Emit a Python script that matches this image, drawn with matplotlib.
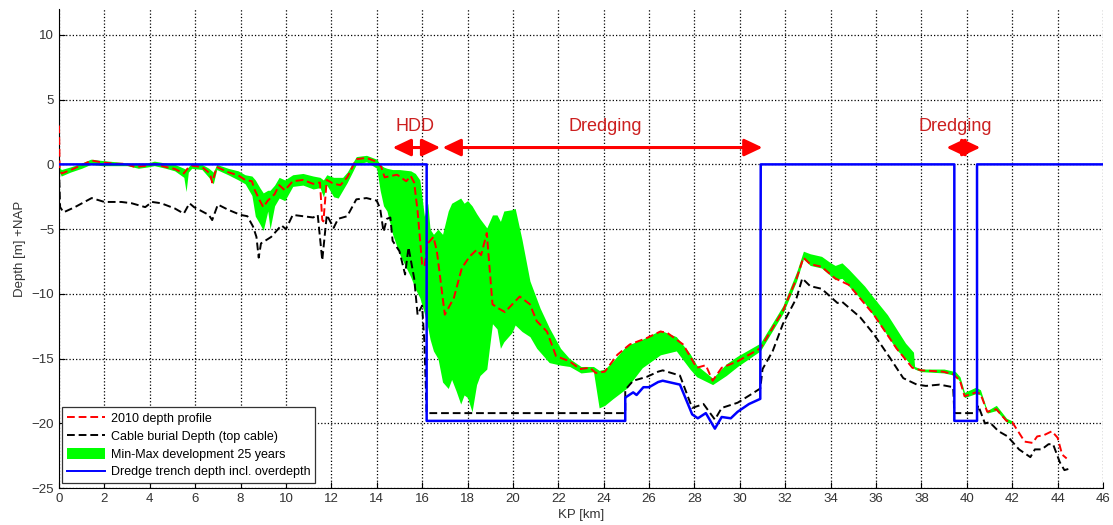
import numpy as np
import matplotlib
matplotlib.use("Agg")
import matplotlib.pyplot as plt
from matplotlib.patches import Patch
from matplotlib.lines import Line2D

plt.rcParams['font.family'] = ['Liberation Sans', 'DejaVu Sans']

# 2010 depth profile (KP km, depth m)
prof_kp = [0.0, 0.03, 0.12, 0.56, 1.0, 1.44, 1.9, 2.5, 2.9, 3.35, 3.9, 4.2, 4.7, 5.1, 5.5, 5.65,
           5.85, 6.3, 6.65, 6.75, 6.95, 7.45, 7.9, 8.2, 8.5, 8.63, 8.85, 9.0, 9.2, 9.5, 9.7, 9.95,
           10.3, 10.75, 11.2, 11.5, 11.6, 11.65, 11.8, 12.1, 12.4, 12.7, 13.1, 13.55, 14.0, 14.2,
           14.35, 14.6, 14.9, 15.3, 15.5, 15.65, 15.8, 16.0, 16.1, 16.25, 16.5, 16.65, 17.0, 17.4,
           17.75, 18.1, 18.4, 18.6, 18.85, 19.1, 19.35, 19.65, 20.3, 20.75, 21.05, 21.5, 21.9, 22.5,
           22.95, 23.4, 23.65, 24.05, 24.6, 25.15, 25.9, 26.5, 26.8, 27.5, 28.1, 28.5, 28.8, 29.2,
           29.9, 30.9, 31.9, 32.5, 32.8, 33.1, 33.6, 34.2, 34.8, 35.9, 36.9, 37.6, 38.0, 38.95,
           39.4, 39.7, 39.9, 40.4, 40.6, 40.9, 41.3, 41.75, 42.0, 42.55, 42.9, 43.1, 43.4, 43.75,
           44.0, 44.2, 44.4]
prof_z = [3.0, -0.3, -0.7, -0.4, -0.05, 0.3, 0.15, 0.05, 0.05, -0.2, -0.1, 0.05, -0.2, -0.35, -0.7, -0.35,
          -0.1, -0.2, -0.7, -1.4, -0.2, -0.6, -0.85, -1.2, -1.3, -2.0, -2.8, -3.3, -2.8, -2.3, -1.6, -2.0,
          -1.3, -1.2, -1.5, -1.4, -4.3, -4.4, -1.2, -1.5, -1.6, -1.0, 0.4, 0.5, 0.2, -0.2,
          -1.0, -0.9, -0.8, -1.3, -0.9, -1.4, -3.6, -7.7, -7.9, -6.1, -5.6, -6.7, -11.6, -10.3,
          -8.0, -7.1, -6.6, -7.0, -5.3, -10.8, -11.1, -11.4, -10.2, -10.8, -12.1, -12.9, -14.8, -15.2,
          -15.8, -15.7, -16.1, -16.0, -14.7, -13.9, -13.4, -12.9, -13.0, -13.9, -15.7, -15.5, -16.7, -15.7,
          -15.2, -14.2, -11.3, -8.8, -7.2, -7.7, -7.9, -8.8, -9.3, -11.6, -14.2, -15.7, -15.9, -16.0,
          -16.2, -16.7, -17.9, -17.6, -17.7, -19.1, -18.9, -19.8, -19.9, -21.4, -21.5, -21.0, -20.9, -20.6,
          -21.1, -22.4, -22.7]

# cable burial depth (top of cable)
cable_kp = [0.0, 0.05, 0.2, 0.7, 1.44, 2.0, 2.75, 3.2, 3.8, 4.1, 4.5, 5.1, 5.5, 5.75, 5.95, 6.6, 6.75,
            7.0, 7.45, 8.0, 8.3, 8.55, 8.7, 8.8, 8.9, 9.35, 9.8, 10.0, 10.3, 10.75, 11.2, 11.4, 11.6,
            11.8, 12.1, 12.3, 12.7, 13.1, 13.55, 14.0, 14.15, 14.3, 14.45, 14.6, 14.7, 15.0, 15.25,
            15.4, 15.65, 15.8, 16.0, 16.1, 16.2, 24.95, 24.95, 25.3, 25.9, 26.4, 26.6, 27.36, 27.9,
            28.4, 28.9, 29.2, 29.9, 30.45, 30.9, 31.0, 31.45, 31.9, 32.5, 32.75, 33.1, 33.6, 34.3,
            34.5, 35.3, 35.9, 36.6, 37.2, 37.8, 38.2, 38.8, 39.4, 39.45, 40.45, 40.5, 40.8, 41.0,
            41.4, 41.8, 42.3, 42.8, 43.0, 43.3, 43.6, 43.8, 44.1, 44.3, 44.5]
cable_z = [-0.3, -3.3, -3.7, -3.3, -2.6, -2.9, -2.9, -3.0, -3.3, -2.9, -3.0, -3.4, -3.8, -3.0, -3.3, -3.9, -4.3,
           -3.1, -3.5, -3.9, -4.0, -4.8, -5.6, -7.2, -6.1, -5.6, -4.7, -5.0, -3.9, -4.0, -4.1, -3.9, -7.4,
           -3.9, -4.9, -4.2, -4.0, -2.7, -2.6, -2.8, -3.4, -5.2, -4.2, -4.1, -5.9, -6.7, -8.5,
           -6.4, -8.8, -11.6, -10.9, -13.7, -19.2, -19.2, -17.4, -16.7, -16.4, -16.0, -15.9, -16.3, -18.8,
           -18.5, -19.7, -18.8, -18.4, -17.8, -17.3, -15.8, -14.4, -12.3, -10.3, -8.8, -9.4, -9.6, -10.7,
           -10.6, -11.8, -13.1, -14.9, -16.5, -17.0, -17.1, -17.0, -17.2, -19.2, -19.2, -18.6, -20.0, -19.9,
           -20.6, -21.0, -22.0, -22.6, -22.0, -22.0, -21.6, -21.6, -23.0, -23.6, -23.5]

# min-max seabed development over 25 years
band_kp = [0.02, 0.1, 0.5, 1.0, 1.4, 1.9, 2.5, 3.0, 3.5, 3.9, 4.2, 4.7, 5.1, 5.5, 5.6, 5.7, 5.85,
           6.3, 6.6, 6.8, 6.95, 7.45, 7.9, 8.2, 8.5, 8.65, 8.85, 9.0, 9.2, 9.3, 9.5, 9.7, 9.95,
           10.3, 10.75, 11.2, 11.5, 11.65, 11.8, 12.1, 12.3, 12.5, 12.7, 13.1, 13.55, 14.0, 14.15,
           14.3, 14.45, 14.7, 15.0, 15.5, 15.7, 15.9, 16.1, 16.25, 16.35, 16.5, 16.7, 16.9, 17.15,
           17.3, 17.5, 17.7, 17.85, 18.0, 18.2, 18.4, 18.55, 18.85, 19.1, 19.3, 19.45, 19.6, 19.95,
           20.1, 20.4, 20.75, 21.05, 21.2, 21.6, 22.1, 22.5, 23.0, 23.55, 23.8, 24.05, 24.4, 25.0,
           25.7, 26.5, 27.2, 27.8, 28.1, 28.8, 29.4, 29.9, 30.9, 31.9, 32.5, 32.8, 33.1, 33.6,
           34.0, 34.2, 34.5, 34.8, 35.5, 35.9, 36.5, 36.9, 37.3, 37.65, 37.7, 38.0, 39.0, 39.5,
           39.7, 39.9, 40.4, 40.6, 40.9, 41.3, 41.75, 42.0]
band_hi = [-0.2, -0.4, -0.2, 0.1, 0.4, 0.3, 0.2, 0.1, 0.0, 0.1, 0.25, 0.1, 0.0, -0.3, -0.4, -0.2, 0.1,
           0.0, -0.3, -0.6, 0.0, -0.3, -0.5, -0.8, -0.9, -1.2, -1.8, -2.2, -2.0, -2.0, -1.6, -1.0, -1.2,
           -0.8, -0.7, -0.9, -1.0, -1.2, -0.8, -1.0, -1.0, -1.0, -0.6, 0.6, 0.7, 0.4, 0.0,
           -0.2, -0.3, -0.4, -0.4, -0.5, -0.7, -1.2, -4.0, -3.0, -5.0, -5.4, -5.0, -5.4, -3.6,
           -3.0, -2.8, -2.6, -3.0, -2.8, -3.2, -3.8, -4.2, -4.9, -3.9, -3.9, -4.4, -3.6, -3.5,
           -3.4, -5.8, -9.0, -10.4, -11.1, -12.6, -14.2, -15.0, -15.6, -15.6, -15.9, -15.8, -15.2, -14.0,
           -13.5, -12.8, -13.3, -14.6, -15.5, -16.5, -15.4, -14.8, -13.8, -10.9, -8.3, -6.7, -6.9, -7.1,
           -7.6, -7.8, -7.6, -8.1, -9.4, -10.3, -11.6, -12.7, -13.8, -14.5, -15.6, -15.8, -15.8, -16.0,
           -16.4, -17.6, -17.2, -17.4, -19.0, -18.6, -19.6, -19.8]
band_lo = [-0.6, -0.9, -0.6, -0.3, 0.0, -0.1, -0.1, -0.1, -0.3, -0.2, -0.1, -0.3, -0.5, -1.0, -2.1, -0.6, -0.3,
           -0.4, -1.0, -1.5, -0.4, -0.8, -1.2, -1.5, -2.4, -4.0, -4.6, -5.1, -3.6, -5.0, -3.2, -2.6, -2.8,
           -1.7, -1.6, -1.9, -1.8, -2.5, -1.6, -2.5, -2.6, -2.0, -1.4, 0.0, 0.2, -0.3, -2.0,
           -3.2, -3.6, -5.4, -6.9, -8.7, -9.6, -10.3, -11.5, -12.6, -13.5, -14.4, -15.0, -16.8, -17.3,
           -16.6, -17.5, -18.5, -17.8, -18.0, -19.1, -17.0, -16.3, -15.8, -12.3, -12.7, -14.2, -13.7, -13.0,
           -12.4, -12.9, -13.3, -14.2, -14.5, -15.3, -15.5, -15.6, -16.1, -16.0, -18.8, -18.6, -18.1, -17.3,
           -15.7, -14.7, -14.4, -15.8, -16.4, -17.0, -16.3, -15.6, -14.4, -11.5, -9.0, -7.3, -7.8, -8.0,
           -8.6, -8.9, -8.8, -9.4, -10.7, -11.7, -13.2, -14.3, -15.0, -15.7, -15.8, -16.0, -16.1, -16.3,
           -16.8, -18.0, -17.7, -17.8, -19.2, -19.0, -19.9, -20.0]

# dredge trench depth incl. overdepth
trench_kp = [0.0, 16.2, 16.2, 24.95, 24.95, 25.3, 25.45, 25.75, 26.0, 26.4, 26.6, 27.36, 27.9, 28.15,
             28.5, 28.9, 29.2, 29.6, 29.9, 30.4, 30.9, 30.92, 39.45, 39.45, 40.45, 40.45, 46.0]
trench_z = [0.0, 0.0, -19.8, -19.8, -18.0, -17.6, -17.8, -17.2, -17.2, -16.8, -16.7, -17.0, -19.3, -19.6,
            -19.2, -20.4, -19.5, -19.6, -19.1, -18.5, -18.1, 0.0, 0.0, -19.8, -19.8, 0.0, 0.0]

# work zones: label, start KP, end KP
zone_names = ['HDD', 'Dredging', 'Dredging']
zone_start = [14.7, 16.9, 39.1]
zone_end = [16.8, 31.0, 40.6]
zone_label_kp = [15.7, 24.05, 39.5]

fig = plt.figure(figsize=(11.13, 5.25), dpi=100)
ax = fig.add_axes([0.053, 0.070, 0.938, 0.913])

ax.fill_between(band_kp, band_lo, band_hi, color='#00ff00', linewidth=0, zorder=2)
ax.plot(prof_kp, prof_z, color='red', linestyle='--', dashes=(4, 2), lw=1.4, zorder=3)
ax.plot(cable_kp, cable_z, color='black', linestyle='--', dashes=(4, 2), lw=1.4, zorder=3)
ax.plot(trench_kp, trench_z, color='#0000ff', lw=1.8, zorder=4)

for name, x0, x1, xl in zip(zone_names, zone_start, zone_end, zone_label_kp):
    ax.annotate('', xy=(x1, 1.3), xytext=(x0, 1.3),
                arrowprops=dict(arrowstyle='<|-|>,head_length=0.55,head_width=0.26',
                                color='red', lw=2.2, mutation_scale=20,
                                shrinkA=0, shrinkB=0), zorder=5)
    ax.text(xl, 2.9, name, color='#cc1f1f', fontsize=13, ha='center', va='center', zorder=5)

ax.set_xlim(0, 46)
ax.set_ylim(-25, 12)
ax.set_xticks(np.arange(0, 47, 2))
ax.set_yticks(np.arange(-25, 11, 5))
ax.grid(True, color='black', linestyle=':', linewidth=0.9)
ax.set_axisbelow(True)
ax.tick_params(direction='in', labelsize=9.5, labelcolor='#333333', length=4)
for s in ['top', 'right']:
    ax.spines[s].set_visible(False)
ax.set_xlabel('KP [km]', fontsize=9.5, color='#333333', labelpad=3)
ax.set_ylabel('Depth [m] +NAP', fontsize=9.5, color='#333333', labelpad=4)

handles = [
    Line2D([], [], color='red', linestyle='--', dashes=(4, 2), lw=1.4),
    Line2D([], [], color='black', linestyle='--', dashes=(4, 2), lw=1.4),
    Patch(facecolor='#00ff00', edgecolor='none'),
    Line2D([], [], color='#0000ff', lw=1.4),
]
labels = ['2010 depth profile', 'Cable burial Depth (top cable)',
          'Min-Max development 25 years', 'Dredge trench depth incl. overdepth']
leg = ax.legend(handles, labels, loc='lower left', bbox_to_anchor=(0.003, 0.01),
                borderaxespad=0, fontsize=9, fancybox=False, framealpha=1,
                edgecolor='#333333', handlelength=3.0, handleheight=1.0,
                labelspacing=0.4, borderpad=0.4, handletextpad=0.5)
leg.get_frame().set_linewidth(0.9)
leg.set_zorder(10)

fig.savefig('out.png', dpi=100)
